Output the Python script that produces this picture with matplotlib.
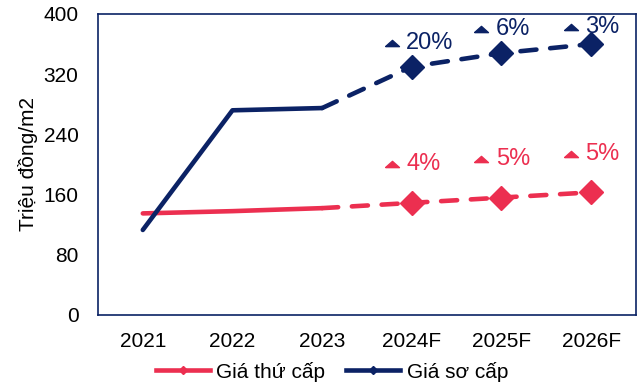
import matplotlib.pyplot as plt
from matplotlib.lines import Line2D
from matplotlib.transforms import offset_copy
import numpy as np

plt.rcParams['font.family'] = ['Liberation Sans', 'DejaVu Sans']

years = ["2021", "2022", "2023", "2024F", "2025F", "2026F"]
so_cap = [113, 272, 275, 330, 348, 360]      # Giá sơ cấp
thu_cap = [135, 138, 142, 149, 156, 163]     # Giá thứ cấp
so_cap_growth = ["20%", "6%", "3%"]
thu_cap_growth = ["4%", "5%", "5%"]

navy = "#0B2265"
red = "#EC2F50"

fig = plt.figure(figsize=(6.42, 3.82), dpi=100)
ax = fig.add_axes([0.1526, 0.1754, 0.838, 0.788])
x = np.arange(len(years))

for vals, col in [(thu_cap, red), (so_cap, navy)]:
    ax.plot(x[:3], vals[:3], color=col, lw=3.3, solid_capstyle="round")
    ax.plot(x[2:], vals[2:], color=col, lw=3.3, ls=(0, (3.5, 3)),
            dash_capstyle="round")
    ax.plot(x[3:], vals[3:], ls="none", marker="D", ms=12.5, color=col)

tri = [(-1, -0.45), (1, -0.45), (0, 0.45), (-1, -0.45)]

def growth_labels(vals, labels, col, up, cap):
    ys = [min(v + up, cap) for v in vals[3:]]
    tr = offset_copy(ax.transData, fig=fig, x=-20, y=0, units="dots")
    ax.plot(x[3:], ys, ls="none", marker=tri, ms=10, color=col, transform=tr,
            clip_on=False)
    for xi, yv, lab in zip(x[3:], ys, labels):
        ax.annotate(lab, (xi, yv), xytext=(-4, 0), textcoords="offset points",
                    ha="left", va="center", fontsize=17, color=col)

growth_labels(so_cap, so_cap_growth, navy, 32, 383)
growth_labels(thu_cap, thu_cap_growth, red, 51, 400)

ax.set_xlim(-0.5, len(years) - 0.5)
ax.set_ylim(0, 400)
ax.set_yticks(np.arange(0, 401, 80))
ax.set_xticks(x)
ax.set_xticklabels(years)
ax.tick_params(length=0, labelsize=15)
ax.tick_params(axis="x", pad=12)
ax.tick_params(axis="y", pad=14)
ax.set_ylabel("Triệu đồng/m2", fontsize=15, labelpad=4)
for s in ax.spines.values():
    s.set_color(navy)
    s.set_linewidth(1.2)

handles = [Line2D([], [], color=red, lw=3.3, marker="D", ms=4),
           Line2D([], [], color=navy, lw=3.3, marker="D", ms=4)]
fig.legend(handles, ["Giá thứ cấp", "Giá sơ cấp"], loc="center",
           bbox_to_anchor=(0.517, 0.027), ncol=2, frameon=False, fontsize=15,
           handlelength=2.6, handletextpad=0.3, columnspacing=1.0)

fig.savefig("out.png", dpi=100)
